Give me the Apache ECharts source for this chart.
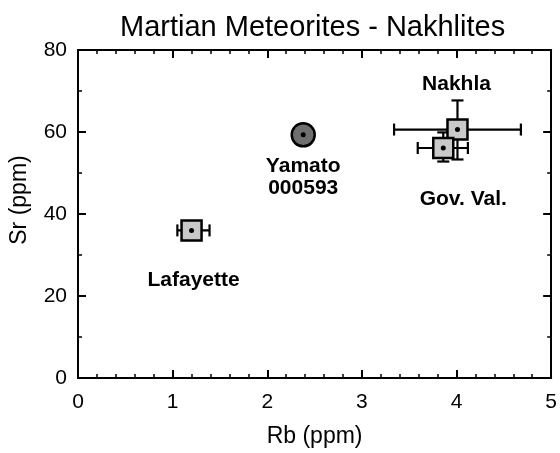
<!DOCTYPE html>
<html>
<head>
<meta charset="utf-8">
<script src="https://cdn.jsdelivr.net/npm/echarts@6/dist/echarts.min.js"></script>
<style>
html,body{margin:0;padding:0;background:#fff;}
#chart{width:560px;height:453px;}
</style>
</head>
<body>
<div id="chart"></div>
<script>
// ---- data ----
var names   = ['Lafayette', 'Yamato\n000593', 'Nakhla', 'Gov. Val.'];
var rb      = [1.20, 2.38, 4.01, 3.86];
var sr      = [36.0, 59.3, 60.6, 56.1];
var rbLow   = [1.05, null, 3.34, 3.59];
var rbHigh  = [1.39, null, 4.68, 4.12];
var srLow   = [null, null, 53.3, 52.8];
var srHigh  = [null, null, 67.7, 59.9];
var kinds   = ['square', 'circle', 'square', 'square'];
var xTicks  = [0, 1, 2, 3, 4, 5];
var yTicks  = [0, 20, 40, 60, 80];

// ---- styling (label placement relative to marker, px) ----
var labelOffsets = [[2, 50], [0, 42], [-1, -45], [20, 51]];

var FONT = '"Liberation Sans", Arial, Helvetica, sans-serif';

var chart = echarts.init(document.getElementById('chart'), null, {renderer: 'canvas'});

var squares = [], circles = [], dots = [], errs = [], labels = [];
for (var i = 0; i < names.length; i++) {
  if (kinds[i] === 'square') squares.push([rb[i], sr[i]]);
  else circles.push([rb[i], sr[i]]);
  dots.push([rb[i], sr[i]]);
  errs.push([rb[i], sr[i], rbLow[i], rbHigh[i], srLow[i], srHigh[i]]);
  labels.push([rb[i], sr[i], i]);
}

function axisCommon(pos, showLabel, ticks) {
  return {
    position: pos,
    axisLine: {show: true, onZero: false, lineStyle: {color: '#000', width: 2}},
    axisTick: {show: true, inside: true, length: 8, lineStyle: {color: '#000', width: 2}},
    minorTick: {show: true, length: 4, lineStyle: {color: '#000', width: 1.5}},
    splitLine: {show: false},
    axisLabel: {show: showLabel, color: '#000', fontFamily: FONT, fontSize: 21, margin: 14,
      formatter: function (v) { return ticks.indexOf(v) >= 0 ? String(v) : ''; }}
  };
}

var xb = axisCommon('bottom', true, xTicks);
var xt = axisCommon('top', false, xTicks);
var yl = axisCommon('left', true, yTicks);
var yr = axisCommon('right', false, yTicks);
[xb, xt].forEach(function (a) {
  a.type = 'value'; a.min = xTicks[0]; a.max = xTicks[xTicks.length - 1]; a.interval = 1;
  a.minorTick.splitNumber = 5;
});
[yl, yr].forEach(function (a) {
  a.type = 'value'; a.min = yTicks[0]; a.max = yTicks[yTicks.length - 1]; a.interval = 20;
  a.minorTick.splitNumber = 2;
});
yl.axisLabel.margin = 11;
xb.name = 'Rb (ppm)';
xb.nameLocation = 'middle';
xb.nameGap = 47;
xb.nameTextStyle = {color: '#000', fontFamily: FONT, fontSize: 23};

var option = {
  animation: false,
  backgroundColor: '#fff',
  title: {
    text: 'Martian Meteorites - Nakhlites',
    left: 115, top: 8,
    textStyle: {color: '#000', fontFamily: FONT, fontSize: 29, fontWeight: 'normal'}
  },
  grid: {left: 78, right: 6, top: 50, bottom: 71, containLabel: false},
  xAxis: [xb, xt],
  yAxis: [yl, yr],
  graphic: [{
    type: 'text', x: 20, y: 200, rotation: Math.PI / 2,
    style: {text: 'Sr (ppm)', fill: '#000', font: '23px ' + FONT, align: 'center', verticalAlign: 'middle'}
  }],
  series: [
    {
      type: 'custom', xAxisIndex: 0, yAxisIndex: 0, z: 2,
      data: errs,
      renderItem: function (params, api) {
        var x = api.value(0), y = api.value(1);
        var children = [];
        var cap = 6;
        var st = {stroke: '#000', lineWidth: 2.2};
        var xl = api.value(2), xh = api.value(3), ylo = api.value(4), yhi = api.value(5);
        if (!isNaN(xl) && !isNaN(xh) && xl !== null) {
          var a = api.coord([xl, y]), b = api.coord([xh, y]);
          children.push({type: 'line', shape: {x1: a[0], y1: a[1], x2: b[0], y2: b[1]}, style: st});
          children.push({type: 'line', shape: {x1: a[0], y1: a[1] - cap, x2: a[0], y2: a[1] + cap}, style: st});
          children.push({type: 'line', shape: {x1: b[0], y1: b[1] - cap, x2: b[0], y2: b[1] + cap}, style: st});
        }
        if (!isNaN(ylo) && !isNaN(yhi) && ylo !== null) {
          var c = api.coord([x, ylo]), d = api.coord([x, yhi]);
          children.push({type: 'line', shape: {x1: c[0], y1: c[1], x2: d[0], y2: d[1]}, style: st});
          children.push({type: 'line', shape: {x1: c[0] - cap, y1: c[1], x2: c[0] + cap, y2: c[1]}, style: st});
          children.push({type: 'line', shape: {x1: d[0] - cap, y1: d[1], x2: d[0] + cap, y2: d[1]}, style: st});
        }
        return {type: 'group', children: children};
      }
    },
    {
      type: 'scatter', symbol: 'rect', symbolSize: 20, z: 3,
      itemStyle: {color: '#c9c9c9', borderColor: '#000', borderWidth: 2.5, opacity: 1},
      data: squares
    },
    {
      type: 'scatter', symbol: 'circle', symbolSize: 23, z: 3,
      itemStyle: {color: '#6f6f6f', borderColor: '#000', borderWidth: 2.5, opacity: 1},
      data: circles
    },
    {
      type: 'scatter', symbol: 'circle', symbolSize: 5, z: 4,
      itemStyle: {color: '#000', opacity: 1},
      data: dots
    },
    {
      type: 'custom', z: 5, silent: true,
      data: labels,
      renderItem: function (params, api) {
        var idx = api.value(2);
        var p = api.coord([api.value(0), api.value(1)]);
        var off = labelOffsets[idx];
        return {
          type: 'text',
          x: p[0] + off[0], y: p[1] + off[1],
          style: {text: names[idx], fill: '#000', font: 'bold 21px ' + FONT,
            lineHeight: 22, align: 'center', verticalAlign: 'middle'}
        };
      }
    }
  ]
};
chart.setOption(option);
</script>
</body>
</html>
